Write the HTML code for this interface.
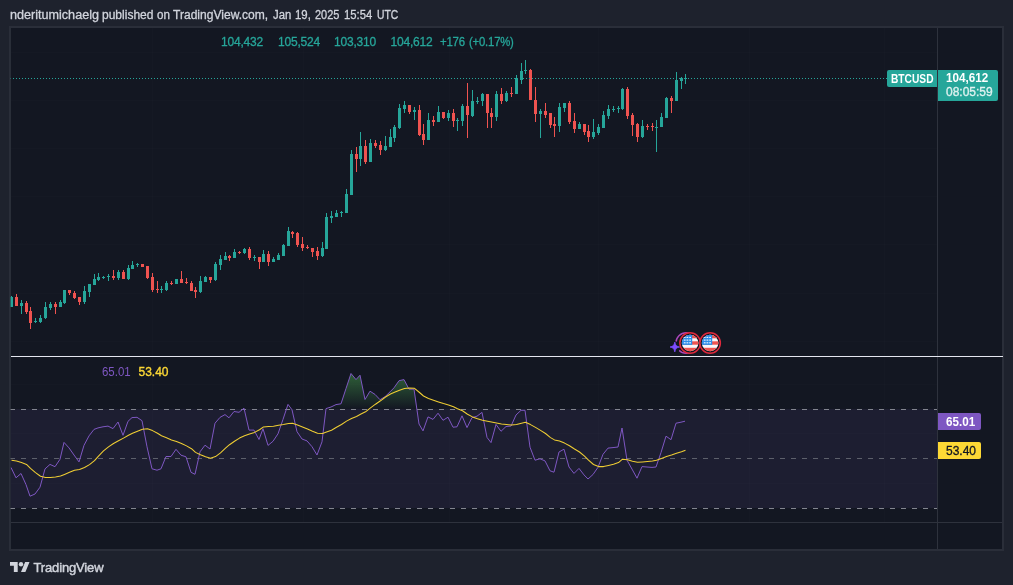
<!DOCTYPE html>
<html><head><meta charset="utf-8"><title>BTCUSD chart</title>
<style>
html,body{margin:0;padding:0;}
body{width:1013px;height:585px;background:#1e222d;overflow:hidden;position:relative;font-family:"Liberation Sans",sans-serif;}
#frame{position:absolute;left:9px;top:26px;width:991px;height:521px;border:2px solid #2a2e39;background:#131722;}
svg{position:absolute;left:0;top:0;}
.t{position:absolute;white-space:nowrap;line-height:1;}
#hdr{position:absolute;left:0;top:9px;font-size:12px;color:#d1d4dc;-webkit-text-stroke:0.3px #d1d4dc;line-height:1;white-space:nowrap;}
#hdr span{position:absolute;top:0;transform-origin:0 0;}
.lg{font-size:12px;color:#26a69a;top:35.6px;letter-spacing:-0.2px;-webkit-text-stroke:0.3px #26a69a;}
.lb{position:absolute;color:#fff;font-size:12px;white-space:nowrap;box-sizing:border-box;}
#sym{left:887px;top:70px;width:50px;height:17px;background:#26a69a;border-radius:2px 0 0 2px;}
#prc{left:938px;top:70px;width:60px;height:31px;background:#26a69a;border-radius:0 2px 2px 0;}
#r1{left:938px;top:413px;width:43px;height:17px;background:#7e57c2;border-radius:0 2px 2px 0;}
#r2{left:938px;top:442px;width:43px;height:17px;background:#fdd835;border-radius:0 2px 2px 0;color:#131722;}
.lb span{position:absolute;line-height:1;}
#tv{left:33.5px;top:561px;font-size:13px;color:#d1d4dc;letter-spacing:-0.15px;-webkit-text-stroke:0.45px #d1d4dc;}
</style></head><body>
<div id="frame"></div>
<svg width="1013" height="585" viewBox="0 0 1013 585">
<rect x="10" y="409" width="927" height="99" fill="#1d1e31"/>
<rect x="152" y="28" width="1" height="494" fill="#f0f3fa" fill-opacity="0.011"/>
<rect x="303" y="28" width="1" height="494" fill="#f0f3fa" fill-opacity="0.011"/>
<rect x="449" y="28" width="1" height="494" fill="#f0f3fa" fill-opacity="0.011"/>
<rect x="598" y="28" width="1" height="494" fill="#f0f3fa" fill-opacity="0.011"/>
<rect x="749" y="28" width="1" height="494" fill="#f0f3fa" fill-opacity="0.011"/>
<rect x="884" y="28" width="1" height="494" fill="#f0f3fa" fill-opacity="0.011"/>
<rect x="11" y="52" width="926" height="1" fill="#f0f3fa" fill-opacity="0.011"/>
<rect x="11" y="100" width="926" height="1" fill="#f0f3fa" fill-opacity="0.011"/>
<rect x="11" y="148" width="926" height="1" fill="#f0f3fa" fill-opacity="0.011"/>
<rect x="11" y="196" width="926" height="1" fill="#f0f3fa" fill-opacity="0.011"/>
<rect x="11" y="244" width="926" height="1" fill="#f0f3fa" fill-opacity="0.011"/>
<rect x="11" y="293" width="926" height="1" fill="#f0f3fa" fill-opacity="0.011"/>
<rect x="11" y="341" width="926" height="1" fill="#f0f3fa" fill-opacity="0.011"/>
<rect x="11" y="384" width="926" height="1" fill="#f0f3fa" fill-opacity="0.011"/>
<rect x="11" y="433" width="926" height="1" fill="#f0f3fa" fill-opacity="0.011"/>
<rect x="11" y="483" width="926" height="1" fill="#f0f3fa" fill-opacity="0.011"/>
<defs><linearGradient id="g" gradientUnits="userSpaceOnUse" x1="0" y1="335" x2="0" y2="409"><stop offset="0" stop-color="#4caf50" stop-opacity="1"/><stop offset="1" stop-color="#4caf50" stop-opacity="0"/></linearGradient><clipPath id="ob"><rect x="11" y="357" width="926" height="52.5"/></clipPath><clipPath id="pane"><rect x="10" y="28" width="927" height="494"/></clipPath></defs>
<polygon clip-path="url(#ob)" fill="url(#g)" points="11.0,409.5 11.0,467.5 16.0,477.8 21.0,473.5 26.0,484.6 30.0,496.2 35.0,494.0 40.0,487.2 45.0,468.9 50.0,464.4 55.0,466.7 60.0,459.3 64.0,442.4 69.0,447.9 74.0,455.0 79.0,461.9 84.0,445.3 89.0,435.9 94.0,429.4 98.0,427.9 103.0,426.8 108.0,426.1 113.0,428.6 118.0,422.0 123.0,435.3 128.0,421.3 132.0,417.6 137.0,417.3 142.0,420.7 147.0,446.8 152.0,468.8 157.0,470.2 161.0,468.8 166.0,456.5 171.0,456.5 176.0,449.3 181.0,455.2 186.0,456.8 191.0,472.3 195.0,474.3 200.0,451.8 205.0,445.2 210.0,449.0 215.0,423.2 220.0,417.4 225.0,414.6 229.0,417.8 234.0,411.5 239.0,412.3 244.0,408.2 249.0,430.1 254.0,430.1 259.0,439.5 263.0,428.7 268.0,445.4 273.0,441.3 278.0,433.8 283.0,419.4 288.0,404.4 292.0,409.8 297.0,431.7 302.0,439.0 307.0,440.9 312.0,446.7 317.0,455.0 322.0,441.8 326.0,408.6 331.0,407.0 336.0,404.6 341.0,403.8 346.0,388.5 351.0,373.5 356.0,379.6 360.0,375.2 365.0,399.5 370.0,391.2 375.0,394.4 380.0,399.7 385.0,396.7 390.0,391.9 394.0,387.8 399.0,380.7 404.0,379.6 409.0,389.2 414.0,389.2 419.0,424.0 423.0,430.9 428.0,416.9 433.0,419.4 438.0,413.2 443.0,420.3 448.0,417.2 453.0,427.2 457.0,426.8 462.0,415.8 467.0,427.6 472.0,417.6 477.0,416.2 482.0,412.4 487.0,437.4 491.0,442.6 496.0,424.4 501.0,431.3 506.0,426.5 511.0,426.1 516.0,415.0 521.0,410.3 525.0,410.3 530.0,447.2 535.0,460.2 540.0,458.8 545.0,460.9 550.0,470.8 554.0,472.2 559.0,452.0 564.0,449.2 569.0,467.0 574.0,473.4 579.0,468.4 584.0,474.9 588.0,479.0 593.0,474.5 598.0,467.3 603.0,454.3 608.0,448.1 613.0,447.6 618.0,447.0 622.0,428.0 627.0,460.2 632.0,469.1 637.0,478.2 642.0,466.6 647.0,467.0 652.0,467.4 656.0,467.0 661.0,452.6 666.0,436.2 671.0,439.7 676.0,423.2 681.0,422.2 685.0,421.2 685.0,409.5"/>
<g fill="#82858f" clip-path="url(#pane)">
<rect x="10" y="409" width="5" height="1"/>
<rect x="21" y="409" width="5" height="1"/>
<rect x="32" y="409" width="5" height="1"/>
<rect x="43" y="409" width="5" height="1"/>
<rect x="54" y="409" width="5" height="1"/>
<rect x="65" y="409" width="5" height="1"/>
<rect x="76" y="409" width="5" height="1"/>
<rect x="87" y="409" width="5" height="1"/>
<rect x="98" y="409" width="5" height="1"/>
<rect x="109" y="409" width="5" height="1"/>
<rect x="120" y="409" width="5" height="1"/>
<rect x="131" y="409" width="5" height="1"/>
<rect x="142" y="409" width="5" height="1"/>
<rect x="153" y="409" width="5" height="1"/>
<rect x="164" y="409" width="5" height="1"/>
<rect x="175" y="409" width="5" height="1"/>
<rect x="186" y="409" width="5" height="1"/>
<rect x="197" y="409" width="5" height="1"/>
<rect x="208" y="409" width="5" height="1"/>
<rect x="219" y="409" width="5" height="1"/>
<rect x="230" y="409" width="5" height="1"/>
<rect x="241" y="409" width="5" height="1"/>
<rect x="252" y="409" width="5" height="1"/>
<rect x="263" y="409" width="5" height="1"/>
<rect x="274" y="409" width="5" height="1"/>
<rect x="285" y="409" width="5" height="1"/>
<rect x="296" y="409" width="5" height="1"/>
<rect x="307" y="409" width="5" height="1"/>
<rect x="318" y="409" width="5" height="1"/>
<rect x="329" y="409" width="5" height="1"/>
<rect x="340" y="409" width="5" height="1"/>
<rect x="351" y="409" width="5" height="1"/>
<rect x="362" y="409" width="5" height="1"/>
<rect x="373" y="409" width="5" height="1"/>
<rect x="384" y="409" width="5" height="1"/>
<rect x="395" y="409" width="5" height="1"/>
<rect x="406" y="409" width="5" height="1"/>
<rect x="417" y="409" width="5" height="1"/>
<rect x="428" y="409" width="5" height="1"/>
<rect x="439" y="409" width="5" height="1"/>
<rect x="450" y="409" width="5" height="1"/>
<rect x="461" y="409" width="5" height="1"/>
<rect x="472" y="409" width="5" height="1"/>
<rect x="483" y="409" width="5" height="1"/>
<rect x="494" y="409" width="5" height="1"/>
<rect x="505" y="409" width="5" height="1"/>
<rect x="516" y="409" width="5" height="1"/>
<rect x="527" y="409" width="5" height="1"/>
<rect x="538" y="409" width="5" height="1"/>
<rect x="549" y="409" width="5" height="1"/>
<rect x="560" y="409" width="5" height="1"/>
<rect x="571" y="409" width="5" height="1"/>
<rect x="582" y="409" width="5" height="1"/>
<rect x="593" y="409" width="5" height="1"/>
<rect x="604" y="409" width="5" height="1"/>
<rect x="615" y="409" width="5" height="1"/>
<rect x="626" y="409" width="5" height="1"/>
<rect x="637" y="409" width="5" height="1"/>
<rect x="648" y="409" width="5" height="1"/>
<rect x="659" y="409" width="5" height="1"/>
<rect x="670" y="409" width="5" height="1"/>
<rect x="681" y="409" width="5" height="1"/>
<rect x="692" y="409" width="5" height="1"/>
<rect x="703" y="409" width="5" height="1"/>
<rect x="714" y="409" width="5" height="1"/>
<rect x="725" y="409" width="5" height="1"/>
<rect x="736" y="409" width="5" height="1"/>
<rect x="747" y="409" width="5" height="1"/>
<rect x="758" y="409" width="5" height="1"/>
<rect x="769" y="409" width="5" height="1"/>
<rect x="780" y="409" width="5" height="1"/>
<rect x="791" y="409" width="5" height="1"/>
<rect x="802" y="409" width="5" height="1"/>
<rect x="813" y="409" width="5" height="1"/>
<rect x="824" y="409" width="5" height="1"/>
<rect x="835" y="409" width="5" height="1"/>
<rect x="846" y="409" width="5" height="1"/>
<rect x="857" y="409" width="5" height="1"/>
<rect x="868" y="409" width="5" height="1"/>
<rect x="879" y="409" width="5" height="1"/>
<rect x="890" y="409" width="5" height="1"/>
<rect x="901" y="409" width="5" height="1"/>
<rect x="912" y="409" width="5" height="1"/>
<rect x="923" y="409" width="5" height="1"/>
<rect x="934" y="409" width="5" height="1"/>
</g>
<g fill="#5d606b" clip-path="url(#pane)">
<rect x="10" y="458" width="5" height="1"/>
<rect x="21" y="458" width="5" height="1"/>
<rect x="32" y="458" width="5" height="1"/>
<rect x="43" y="458" width="5" height="1"/>
<rect x="54" y="458" width="5" height="1"/>
<rect x="65" y="458" width="5" height="1"/>
<rect x="76" y="458" width="5" height="1"/>
<rect x="87" y="458" width="5" height="1"/>
<rect x="98" y="458" width="5" height="1"/>
<rect x="109" y="458" width="5" height="1"/>
<rect x="120" y="458" width="5" height="1"/>
<rect x="131" y="458" width="5" height="1"/>
<rect x="142" y="458" width="5" height="1"/>
<rect x="153" y="458" width="5" height="1"/>
<rect x="164" y="458" width="5" height="1"/>
<rect x="175" y="458" width="5" height="1"/>
<rect x="186" y="458" width="5" height="1"/>
<rect x="197" y="458" width="5" height="1"/>
<rect x="208" y="458" width="5" height="1"/>
<rect x="219" y="458" width="5" height="1"/>
<rect x="230" y="458" width="5" height="1"/>
<rect x="241" y="458" width="5" height="1"/>
<rect x="252" y="458" width="5" height="1"/>
<rect x="263" y="458" width="5" height="1"/>
<rect x="274" y="458" width="5" height="1"/>
<rect x="285" y="458" width="5" height="1"/>
<rect x="296" y="458" width="5" height="1"/>
<rect x="307" y="458" width="5" height="1"/>
<rect x="318" y="458" width="5" height="1"/>
<rect x="329" y="458" width="5" height="1"/>
<rect x="340" y="458" width="5" height="1"/>
<rect x="351" y="458" width="5" height="1"/>
<rect x="362" y="458" width="5" height="1"/>
<rect x="373" y="458" width="5" height="1"/>
<rect x="384" y="458" width="5" height="1"/>
<rect x="395" y="458" width="5" height="1"/>
<rect x="406" y="458" width="5" height="1"/>
<rect x="417" y="458" width="5" height="1"/>
<rect x="428" y="458" width="5" height="1"/>
<rect x="439" y="458" width="5" height="1"/>
<rect x="450" y="458" width="5" height="1"/>
<rect x="461" y="458" width="5" height="1"/>
<rect x="472" y="458" width="5" height="1"/>
<rect x="483" y="458" width="5" height="1"/>
<rect x="494" y="458" width="5" height="1"/>
<rect x="505" y="458" width="5" height="1"/>
<rect x="516" y="458" width="5" height="1"/>
<rect x="527" y="458" width="5" height="1"/>
<rect x="538" y="458" width="5" height="1"/>
<rect x="549" y="458" width="5" height="1"/>
<rect x="560" y="458" width="5" height="1"/>
<rect x="571" y="458" width="5" height="1"/>
<rect x="582" y="458" width="5" height="1"/>
<rect x="593" y="458" width="5" height="1"/>
<rect x="604" y="458" width="5" height="1"/>
<rect x="615" y="458" width="5" height="1"/>
<rect x="626" y="458" width="5" height="1"/>
<rect x="637" y="458" width="5" height="1"/>
<rect x="648" y="458" width="5" height="1"/>
<rect x="659" y="458" width="5" height="1"/>
<rect x="670" y="458" width="5" height="1"/>
<rect x="681" y="458" width="5" height="1"/>
<rect x="692" y="458" width="5" height="1"/>
<rect x="703" y="458" width="5" height="1"/>
<rect x="714" y="458" width="5" height="1"/>
<rect x="725" y="458" width="5" height="1"/>
<rect x="736" y="458" width="5" height="1"/>
<rect x="747" y="458" width="5" height="1"/>
<rect x="758" y="458" width="5" height="1"/>
<rect x="769" y="458" width="5" height="1"/>
<rect x="780" y="458" width="5" height="1"/>
<rect x="791" y="458" width="5" height="1"/>
<rect x="802" y="458" width="5" height="1"/>
<rect x="813" y="458" width="5" height="1"/>
<rect x="824" y="458" width="5" height="1"/>
<rect x="835" y="458" width="5" height="1"/>
<rect x="846" y="458" width="5" height="1"/>
<rect x="857" y="458" width="5" height="1"/>
<rect x="868" y="458" width="5" height="1"/>
<rect x="879" y="458" width="5" height="1"/>
<rect x="890" y="458" width="5" height="1"/>
<rect x="901" y="458" width="5" height="1"/>
<rect x="912" y="458" width="5" height="1"/>
<rect x="923" y="458" width="5" height="1"/>
<rect x="934" y="458" width="5" height="1"/>
</g>
<g fill="#82858f" clip-path="url(#pane)">
<rect x="10" y="508" width="5" height="1"/>
<rect x="21" y="508" width="5" height="1"/>
<rect x="32" y="508" width="5" height="1"/>
<rect x="43" y="508" width="5" height="1"/>
<rect x="54" y="508" width="5" height="1"/>
<rect x="65" y="508" width="5" height="1"/>
<rect x="76" y="508" width="5" height="1"/>
<rect x="87" y="508" width="5" height="1"/>
<rect x="98" y="508" width="5" height="1"/>
<rect x="109" y="508" width="5" height="1"/>
<rect x="120" y="508" width="5" height="1"/>
<rect x="131" y="508" width="5" height="1"/>
<rect x="142" y="508" width="5" height="1"/>
<rect x="153" y="508" width="5" height="1"/>
<rect x="164" y="508" width="5" height="1"/>
<rect x="175" y="508" width="5" height="1"/>
<rect x="186" y="508" width="5" height="1"/>
<rect x="197" y="508" width="5" height="1"/>
<rect x="208" y="508" width="5" height="1"/>
<rect x="219" y="508" width="5" height="1"/>
<rect x="230" y="508" width="5" height="1"/>
<rect x="241" y="508" width="5" height="1"/>
<rect x="252" y="508" width="5" height="1"/>
<rect x="263" y="508" width="5" height="1"/>
<rect x="274" y="508" width="5" height="1"/>
<rect x="285" y="508" width="5" height="1"/>
<rect x="296" y="508" width="5" height="1"/>
<rect x="307" y="508" width="5" height="1"/>
<rect x="318" y="508" width="5" height="1"/>
<rect x="329" y="508" width="5" height="1"/>
<rect x="340" y="508" width="5" height="1"/>
<rect x="351" y="508" width="5" height="1"/>
<rect x="362" y="508" width="5" height="1"/>
<rect x="373" y="508" width="5" height="1"/>
<rect x="384" y="508" width="5" height="1"/>
<rect x="395" y="508" width="5" height="1"/>
<rect x="406" y="508" width="5" height="1"/>
<rect x="417" y="508" width="5" height="1"/>
<rect x="428" y="508" width="5" height="1"/>
<rect x="439" y="508" width="5" height="1"/>
<rect x="450" y="508" width="5" height="1"/>
<rect x="461" y="508" width="5" height="1"/>
<rect x="472" y="508" width="5" height="1"/>
<rect x="483" y="508" width="5" height="1"/>
<rect x="494" y="508" width="5" height="1"/>
<rect x="505" y="508" width="5" height="1"/>
<rect x="516" y="508" width="5" height="1"/>
<rect x="527" y="508" width="5" height="1"/>
<rect x="538" y="508" width="5" height="1"/>
<rect x="549" y="508" width="5" height="1"/>
<rect x="560" y="508" width="5" height="1"/>
<rect x="571" y="508" width="5" height="1"/>
<rect x="582" y="508" width="5" height="1"/>
<rect x="593" y="508" width="5" height="1"/>
<rect x="604" y="508" width="5" height="1"/>
<rect x="615" y="508" width="5" height="1"/>
<rect x="626" y="508" width="5" height="1"/>
<rect x="637" y="508" width="5" height="1"/>
<rect x="648" y="508" width="5" height="1"/>
<rect x="659" y="508" width="5" height="1"/>
<rect x="670" y="508" width="5" height="1"/>
<rect x="681" y="508" width="5" height="1"/>
<rect x="692" y="508" width="5" height="1"/>
<rect x="703" y="508" width="5" height="1"/>
<rect x="714" y="508" width="5" height="1"/>
<rect x="725" y="508" width="5" height="1"/>
<rect x="736" y="508" width="5" height="1"/>
<rect x="747" y="508" width="5" height="1"/>
<rect x="758" y="508" width="5" height="1"/>
<rect x="769" y="508" width="5" height="1"/>
<rect x="780" y="508" width="5" height="1"/>
<rect x="791" y="508" width="5" height="1"/>
<rect x="802" y="508" width="5" height="1"/>
<rect x="813" y="508" width="5" height="1"/>
<rect x="824" y="508" width="5" height="1"/>
<rect x="835" y="508" width="5" height="1"/>
<rect x="846" y="508" width="5" height="1"/>
<rect x="857" y="508" width="5" height="1"/>
<rect x="868" y="508" width="5" height="1"/>
<rect x="879" y="508" width="5" height="1"/>
<rect x="890" y="508" width="5" height="1"/>
<rect x="901" y="508" width="5" height="1"/>
<rect x="912" y="508" width="5" height="1"/>
<rect x="923" y="508" width="5" height="1"/>
<rect x="934" y="508" width="5" height="1"/>
</g>
<polyline fill="none" stroke="#7e57c2" stroke-width="1.0" stroke-linejoin="round" points="11.0,467.5 16.0,477.8 21.0,473.5 26.0,484.6 30.0,496.2 35.0,494.0 40.0,487.2 45.0,468.9 50.0,464.4 55.0,466.7 60.0,459.3 64.0,442.4 69.0,447.9 74.0,455.0 79.0,461.9 84.0,445.3 89.0,435.9 94.0,429.4 98.0,427.9 103.0,426.8 108.0,426.1 113.0,428.6 118.0,422.0 123.0,435.3 128.0,421.3 132.0,417.6 137.0,417.3 142.0,420.7 147.0,446.8 152.0,468.8 157.0,470.2 161.0,468.8 166.0,456.5 171.0,456.5 176.0,449.3 181.0,455.2 186.0,456.8 191.0,472.3 195.0,474.3 200.0,451.8 205.0,445.2 210.0,449.0 215.0,423.2 220.0,417.4 225.0,414.6 229.0,417.8 234.0,411.5 239.0,412.3 244.0,408.2 249.0,430.1 254.0,430.1 259.0,439.5 263.0,428.7 268.0,445.4 273.0,441.3 278.0,433.8 283.0,419.4 288.0,404.4 292.0,409.8 297.0,431.7 302.0,439.0 307.0,440.9 312.0,446.7 317.0,455.0 322.0,441.8 326.0,408.6 331.0,407.0 336.0,404.6 341.0,403.8 346.0,388.5 351.0,373.5 356.0,379.6 360.0,375.2 365.0,399.5 370.0,391.2 375.0,394.4 380.0,399.7 385.0,396.7 390.0,391.9 394.0,387.8 399.0,380.7 404.0,379.6 409.0,389.2 414.0,389.2 419.0,424.0 423.0,430.9 428.0,416.9 433.0,419.4 438.0,413.2 443.0,420.3 448.0,417.2 453.0,427.2 457.0,426.8 462.0,415.8 467.0,427.6 472.0,417.6 477.0,416.2 482.0,412.4 487.0,437.4 491.0,442.6 496.0,424.4 501.0,431.3 506.0,426.5 511.0,426.1 516.0,415.0 521.0,410.3 525.0,410.3 530.0,447.2 535.0,460.2 540.0,458.8 545.0,460.9 550.0,470.8 554.0,472.2 559.0,452.0 564.0,449.2 569.0,467.0 574.0,473.4 579.0,468.4 584.0,474.9 588.0,479.0 593.0,474.5 598.0,467.3 603.0,454.3 608.0,448.1 613.0,447.6 618.0,447.0 622.0,428.0 627.0,460.2 632.0,469.1 637.0,478.2 642.0,466.6 647.0,467.0 652.0,467.4 656.0,467.0 661.0,452.6 666.0,436.2 671.0,439.7 676.0,423.2 681.0,422.2 685.0,421.2"/>
<polyline fill="none" stroke="#f0ce33" stroke-width="1.05" stroke-linejoin="round" points="11.5,460.2 16.5,461.0 21.5,462.6 26.5,464.4 30.5,468.4 35.5,472.6 40.5,476.2 45.5,477.6 50.5,477.4 55.5,476.9 60.5,476.1 64.5,474.4 69.5,472.3 74.5,470.3 79.5,469.6 84.5,467.5 89.5,464.6 94.5,460.7 98.5,456.1 103.5,450.9 108.5,446.9 113.5,443.5 118.5,440.8 123.5,438.1 128.5,435.3 132.5,433.3 137.5,431.2 142.5,429.2 147.5,428.8 152.5,430.6 157.5,433.3 161.5,435.8 166.5,437.7 171.5,439.9 176.5,441.5 181.5,443.5 186.5,445.9 191.5,448.7 195.5,452.4 200.5,454.8 205.5,456.8 210.5,458.2 215.5,456.6 220.5,452.9 225.5,448.1 229.5,444.7 234.5,441.3 239.5,438.1 244.5,435.8 249.5,434.0 254.5,432.4 259.5,429.7 263.5,426.9 268.5,426.6 273.5,426.2 278.5,425.3 283.5,424.5 288.5,423.5 292.5,423.2 297.5,424.9 302.5,426.9 307.5,429.0 312.5,431.2 317.5,433.2 322.5,433.6 326.5,431.9 331.5,430.2 336.5,427.3 341.5,424.5 346.5,421.1 351.5,418.5 356.5,416.5 360.5,414.2 365.5,411.8 370.5,407.9 375.5,404.2 380.5,400.8 385.5,397.0 390.5,394.0 394.5,392.3 399.5,390.2 404.5,388.5 409.5,388.0 414.5,388.3 419.5,392.5 423.5,396.0 428.5,398.5 433.5,400.2 438.5,401.9 443.5,403.5 448.5,404.9 453.5,406.7 457.5,408.7 462.5,410.8 467.5,414.2 472.5,416.9 477.5,418.7 482.5,420.3 487.5,421.3 491.5,422.1 496.5,423.1 501.5,424.0 506.5,424.6 511.5,425.1 516.5,424.5 521.5,423.2 525.5,422.3 530.5,424.6 535.5,427.4 540.5,430.4 545.5,433.5 550.5,437.6 554.5,439.9 559.5,441.0 564.5,443.1 569.5,445.8 574.5,449.0 579.5,452.0 584.5,456.1 588.5,460.2 593.5,464.5 598.5,466.6 603.5,466.6 608.5,465.5 613.5,464.3 618.5,462.6 622.5,459.2 627.5,459.8 632.5,461.3 637.5,462.2 642.5,461.9 647.5,461.5 652.5,461.1 656.5,460.2 661.5,458.5 666.5,456.5 671.5,455.1 676.5,453.3 681.5,451.7 685.5,450.2"/>
<g clip-path="url(#pane)" shape-rendering="crispEdges">
<rect x="11" y="296" width="1" height="11" fill="#26a69a"/>
<rect x="10" y="297" width="3" height="10" fill="#26a69a"/>
<rect x="16" y="294" width="1" height="12" fill="#ef5350"/>
<rect x="15" y="297" width="3" height="9" fill="#ef5350"/>
<rect x="21" y="300" width="1" height="14" fill="#26a69a"/>
<rect x="20" y="303" width="3" height="3" fill="#26a69a"/>
<rect x="26" y="301" width="1" height="13" fill="#ef5350"/>
<rect x="25" y="303" width="3" height="9" fill="#ef5350"/>
<rect x="30" y="307" width="1" height="22" fill="#ef5350"/>
<rect x="29" y="311" width="3" height="12" fill="#ef5350"/>
<rect x="35" y="318" width="1" height="5" fill="#26a69a"/>
<rect x="34" y="321" width="3" height="1" fill="#26a69a"/>
<rect x="40" y="315" width="1" height="8" fill="#26a69a"/>
<rect x="39" y="318" width="3" height="4" fill="#26a69a"/>
<rect x="45" y="302" width="1" height="17" fill="#26a69a"/>
<rect x="44" y="307" width="3" height="11" fill="#26a69a"/>
<rect x="50" y="302" width="1" height="8" fill="#26a69a"/>
<rect x="49" y="304" width="3" height="4" fill="#26a69a"/>
<rect x="55" y="302" width="1" height="12" fill="#ef5350"/>
<rect x="54" y="304" width="3" height="3" fill="#ef5350"/>
<rect x="60" y="300" width="1" height="7" fill="#26a69a"/>
<rect x="59" y="302" width="3" height="5" fill="#26a69a"/>
<rect x="64" y="290" width="1" height="14" fill="#26a69a"/>
<rect x="63" y="290" width="3" height="13" fill="#26a69a"/>
<rect x="69" y="290" width="1" height="5" fill="#ef5350"/>
<rect x="68" y="290" width="3" height="3" fill="#ef5350"/>
<rect x="74" y="291" width="1" height="8" fill="#ef5350"/>
<rect x="73" y="293" width="3" height="5" fill="#ef5350"/>
<rect x="79" y="297" width="1" height="8" fill="#ef5350"/>
<rect x="78" y="297" width="3" height="5" fill="#ef5350"/>
<rect x="84" y="286" width="1" height="18" fill="#26a69a"/>
<rect x="83" y="291" width="3" height="11" fill="#26a69a"/>
<rect x="89" y="284" width="1" height="13" fill="#26a69a"/>
<rect x="88" y="284" width="3" height="8" fill="#26a69a"/>
<rect x="94" y="274" width="1" height="11" fill="#26a69a"/>
<rect x="93" y="279" width="3" height="6" fill="#26a69a"/>
<rect x="98" y="273" width="1" height="8" fill="#26a69a"/>
<rect x="97" y="277" width="3" height="3" fill="#26a69a"/>
<rect x="103" y="276" width="1" height="3" fill="#26a69a"/>
<rect x="102" y="277" width="3" height="1" fill="#26a69a"/>
<rect x="108" y="274" width="1" height="7" fill="#26a69a"/>
<rect x="107" y="276" width="3" height="1" fill="#26a69a"/>
<rect x="113" y="270" width="1" height="10" fill="#ef5350"/>
<rect x="112" y="276" width="3" height="2" fill="#ef5350"/>
<rect x="118" y="270" width="1" height="10" fill="#26a69a"/>
<rect x="117" y="272" width="3" height="6" fill="#26a69a"/>
<rect x="123" y="270" width="1" height="9" fill="#ef5350"/>
<rect x="122" y="272" width="3" height="7" fill="#ef5350"/>
<rect x="128" y="265" width="1" height="15" fill="#26a69a"/>
<rect x="127" y="268" width="3" height="11" fill="#26a69a"/>
<rect x="132" y="261" width="1" height="8" fill="#26a69a"/>
<rect x="131" y="265" width="3" height="4" fill="#26a69a"/>
<rect x="137" y="263" width="1" height="4" fill="#26a69a"/>
<rect x="136" y="264" width="3" height="1" fill="#26a69a"/>
<rect x="142" y="264" width="1" height="3" fill="#ef5350"/>
<rect x="141" y="264" width="3" height="3" fill="#ef5350"/>
<rect x="147" y="266" width="1" height="13" fill="#ef5350"/>
<rect x="146" y="266" width="3" height="12" fill="#ef5350"/>
<rect x="152" y="273" width="1" height="19" fill="#ef5350"/>
<rect x="151" y="277" width="3" height="13" fill="#ef5350"/>
<rect x="157" y="281" width="1" height="12" fill="#ef5350"/>
<rect x="156" y="289" width="3" height="1" fill="#ef5350"/>
<rect x="161" y="286" width="1" height="7" fill="#26a69a"/>
<rect x="160" y="289" width="3" height="1" fill="#26a69a"/>
<rect x="166" y="281" width="1" height="10" fill="#26a69a"/>
<rect x="165" y="283" width="3" height="7" fill="#26a69a"/>
<rect x="171" y="281" width="1" height="4" fill="#ef5350"/>
<rect x="170" y="283" width="3" height="1" fill="#ef5350"/>
<rect x="176" y="279" width="1" height="5" fill="#26a69a"/>
<rect x="175" y="279" width="3" height="5" fill="#26a69a"/>
<rect x="181" y="271" width="1" height="12" fill="#ef5350"/>
<rect x="180" y="279" width="3" height="4" fill="#ef5350"/>
<rect x="186" y="278" width="1" height="6" fill="#ef5350"/>
<rect x="185" y="282" width="3" height="1" fill="#ef5350"/>
<rect x="191" y="281" width="1" height="10" fill="#ef5350"/>
<rect x="190" y="283" width="3" height="8" fill="#ef5350"/>
<rect x="195" y="287" width="1" height="11" fill="#ef5350"/>
<rect x="194" y="290" width="3" height="2" fill="#ef5350"/>
<rect x="200" y="276" width="1" height="17" fill="#26a69a"/>
<rect x="199" y="281" width="3" height="11" fill="#26a69a"/>
<rect x="205" y="276" width="1" height="6" fill="#26a69a"/>
<rect x="204" y="277" width="3" height="5" fill="#26a69a"/>
<rect x="210" y="277" width="1" height="6" fill="#ef5350"/>
<rect x="209" y="277" width="3" height="3" fill="#ef5350"/>
<rect x="215" y="262" width="1" height="19" fill="#26a69a"/>
<rect x="214" y="264" width="3" height="16" fill="#26a69a"/>
<rect x="220" y="255" width="1" height="15" fill="#26a69a"/>
<rect x="219" y="259" width="3" height="6" fill="#26a69a"/>
<rect x="225" y="252" width="1" height="8" fill="#26a69a"/>
<rect x="224" y="256" width="3" height="4" fill="#26a69a"/>
<rect x="229" y="255" width="1" height="6" fill="#ef5350"/>
<rect x="228" y="256" width="3" height="2" fill="#ef5350"/>
<rect x="234" y="249" width="1" height="9" fill="#26a69a"/>
<rect x="233" y="252" width="3" height="6" fill="#26a69a"/>
<rect x="239" y="251" width="1" height="3" fill="#ef5350"/>
<rect x="238" y="252" width="3" height="1" fill="#ef5350"/>
<rect x="244" y="248" width="1" height="6" fill="#26a69a"/>
<rect x="243" y="249" width="3" height="4" fill="#26a69a"/>
<rect x="249" y="247" width="1" height="13" fill="#ef5350"/>
<rect x="248" y="249" width="3" height="9" fill="#ef5350"/>
<rect x="254" y="255" width="1" height="6" fill="#26a69a"/>
<rect x="253" y="257" width="3" height="1" fill="#26a69a"/>
<rect x="259" y="257" width="1" height="12" fill="#ef5350"/>
<rect x="258" y="257" width="3" height="5" fill="#ef5350"/>
<rect x="263" y="250" width="1" height="12" fill="#26a69a"/>
<rect x="262" y="254" width="3" height="8" fill="#26a69a"/>
<rect x="268" y="251" width="1" height="15" fill="#ef5350"/>
<rect x="267" y="254" width="3" height="8" fill="#ef5350"/>
<rect x="273" y="257" width="1" height="5" fill="#26a69a"/>
<rect x="272" y="259" width="3" height="3" fill="#26a69a"/>
<rect x="278" y="253" width="1" height="7" fill="#26a69a"/>
<rect x="277" y="255" width="3" height="5" fill="#26a69a"/>
<rect x="283" y="244" width="1" height="12" fill="#26a69a"/>
<rect x="282" y="245" width="3" height="11" fill="#26a69a"/>
<rect x="288" y="227" width="1" height="19" fill="#26a69a"/>
<rect x="287" y="231" width="3" height="15" fill="#26a69a"/>
<rect x="292" y="231" width="1" height="7" fill="#ef5350"/>
<rect x="291" y="232" width="3" height="2" fill="#ef5350"/>
<rect x="297" y="232" width="1" height="15" fill="#ef5350"/>
<rect x="296" y="233" width="3" height="12" fill="#ef5350"/>
<rect x="302" y="237" width="1" height="14" fill="#ef5350"/>
<rect x="301" y="244" width="3" height="4" fill="#ef5350"/>
<rect x="307" y="245" width="1" height="4" fill="#ef5350"/>
<rect x="306" y="247" width="3" height="1" fill="#ef5350"/>
<rect x="312" y="248" width="1" height="9" fill="#ef5350"/>
<rect x="311" y="248" width="3" height="4" fill="#ef5350"/>
<rect x="317" y="247" width="1" height="13" fill="#ef5350"/>
<rect x="316" y="251" width="3" height="5" fill="#ef5350"/>
<rect x="322" y="242" width="1" height="15" fill="#26a69a"/>
<rect x="321" y="248" width="3" height="8" fill="#26a69a"/>
<rect x="326" y="213" width="1" height="36" fill="#26a69a"/>
<rect x="325" y="217" width="3" height="32" fill="#26a69a"/>
<rect x="331" y="211" width="1" height="12" fill="#26a69a"/>
<rect x="330" y="216" width="3" height="2" fill="#26a69a"/>
<rect x="336" y="210" width="1" height="7" fill="#26a69a"/>
<rect x="335" y="213" width="3" height="4" fill="#26a69a"/>
<rect x="341" y="211" width="1" height="6" fill="#26a69a"/>
<rect x="340" y="212" width="3" height="1" fill="#26a69a"/>
<rect x="346" y="189" width="1" height="24" fill="#26a69a"/>
<rect x="345" y="194" width="3" height="19" fill="#26a69a"/>
<rect x="351" y="150" width="1" height="45" fill="#26a69a"/>
<rect x="350" y="154" width="3" height="41" fill="#26a69a"/>
<rect x="356" y="147" width="1" height="25" fill="#ef5350"/>
<rect x="355" y="154" width="3" height="5" fill="#ef5350"/>
<rect x="360" y="132" width="1" height="34" fill="#26a69a"/>
<rect x="359" y="146" width="3" height="13" fill="#26a69a"/>
<rect x="365" y="140" width="1" height="24" fill="#ef5350"/>
<rect x="364" y="146" width="3" height="16" fill="#ef5350"/>
<rect x="370" y="139" width="1" height="23" fill="#26a69a"/>
<rect x="369" y="143" width="3" height="19" fill="#26a69a"/>
<rect x="375" y="140" width="1" height="8" fill="#ef5350"/>
<rect x="374" y="143" width="3" height="3" fill="#ef5350"/>
<rect x="380" y="141" width="1" height="14" fill="#ef5350"/>
<rect x="379" y="145" width="3" height="5" fill="#ef5350"/>
<rect x="385" y="136" width="1" height="15" fill="#26a69a"/>
<rect x="384" y="146" width="3" height="4" fill="#26a69a"/>
<rect x="390" y="129" width="1" height="18" fill="#26a69a"/>
<rect x="389" y="137" width="3" height="10" fill="#26a69a"/>
<rect x="394" y="125" width="1" height="17" fill="#26a69a"/>
<rect x="393" y="127" width="3" height="11" fill="#26a69a"/>
<rect x="399" y="104" width="1" height="25" fill="#26a69a"/>
<rect x="398" y="108" width="3" height="20" fill="#26a69a"/>
<rect x="404" y="101" width="1" height="12" fill="#26a69a"/>
<rect x="403" y="105" width="3" height="4" fill="#26a69a"/>
<rect x="409" y="105" width="1" height="9" fill="#ef5350"/>
<rect x="408" y="105" width="3" height="7" fill="#ef5350"/>
<rect x="414" y="107" width="1" height="13" fill="#26a69a"/>
<rect x="413" y="110" width="3" height="2" fill="#26a69a"/>
<rect x="419" y="105" width="1" height="31" fill="#ef5350"/>
<rect x="418" y="110" width="3" height="25" fill="#ef5350"/>
<rect x="423" y="124" width="1" height="21" fill="#ef5350"/>
<rect x="422" y="134" width="3" height="6" fill="#ef5350"/>
<rect x="428" y="113" width="1" height="27" fill="#26a69a"/>
<rect x="427" y="120" width="3" height="20" fill="#26a69a"/>
<rect x="433" y="116" width="1" height="10" fill="#ef5350"/>
<rect x="432" y="120" width="3" height="2" fill="#ef5350"/>
<rect x="438" y="106" width="1" height="16" fill="#26a69a"/>
<rect x="437" y="112" width="3" height="10" fill="#26a69a"/>
<rect x="443" y="112" width="1" height="7" fill="#ef5350"/>
<rect x="442" y="112" width="3" height="6" fill="#ef5350"/>
<rect x="448" y="110" width="1" height="11" fill="#26a69a"/>
<rect x="447" y="113" width="3" height="5" fill="#26a69a"/>
<rect x="453" y="109" width="1" height="18" fill="#ef5350"/>
<rect x="452" y="113" width="3" height="8" fill="#ef5350"/>
<rect x="457" y="118" width="1" height="13" fill="#26a69a"/>
<rect x="456" y="120" width="3" height="1" fill="#26a69a"/>
<rect x="462" y="104" width="1" height="22" fill="#26a69a"/>
<rect x="461" y="106" width="3" height="15" fill="#26a69a"/>
<rect x="467" y="83" width="1" height="55" fill="#ef5350"/>
<rect x="466" y="106" width="3" height="9" fill="#ef5350"/>
<rect x="472" y="90" width="1" height="27" fill="#26a69a"/>
<rect x="471" y="101" width="3" height="15" fill="#26a69a"/>
<rect x="477" y="97" width="1" height="7" fill="#26a69a"/>
<rect x="476" y="101" width="3" height="1" fill="#26a69a"/>
<rect x="482" y="93" width="1" height="13" fill="#26a69a"/>
<rect x="481" y="94" width="3" height="7" fill="#26a69a"/>
<rect x="487" y="94" width="1" height="34" fill="#ef5350"/>
<rect x="486" y="94" width="3" height="19" fill="#ef5350"/>
<rect x="491" y="108" width="1" height="20" fill="#ef5350"/>
<rect x="490" y="113" width="3" height="4" fill="#ef5350"/>
<rect x="496" y="91" width="1" height="30" fill="#26a69a"/>
<rect x="495" y="94" width="3" height="23" fill="#26a69a"/>
<rect x="501" y="88" width="1" height="16" fill="#ef5350"/>
<rect x="500" y="94" width="3" height="7" fill="#ef5350"/>
<rect x="506" y="91" width="1" height="11" fill="#26a69a"/>
<rect x="505" y="93" width="3" height="8" fill="#26a69a"/>
<rect x="511" y="87" width="1" height="10" fill="#ef5350"/>
<rect x="510" y="93" width="3" height="1" fill="#ef5350"/>
<rect x="516" y="75" width="1" height="19" fill="#26a69a"/>
<rect x="515" y="78" width="3" height="16" fill="#26a69a"/>
<rect x="521" y="63" width="1" height="21" fill="#26a69a"/>
<rect x="520" y="71" width="3" height="9" fill="#26a69a"/>
<rect x="525" y="60" width="1" height="14" fill="#26a69a"/>
<rect x="524" y="70" width="3" height="1" fill="#26a69a"/>
<rect x="530" y="69" width="1" height="31" fill="#ef5350"/>
<rect x="529" y="70" width="3" height="30" fill="#ef5350"/>
<rect x="535" y="87" width="1" height="35" fill="#ef5350"/>
<rect x="534" y="100" width="3" height="14" fill="#ef5350"/>
<rect x="540" y="109" width="1" height="29" fill="#26a69a"/>
<rect x="539" y="111" width="3" height="3" fill="#26a69a"/>
<rect x="545" y="103" width="1" height="15" fill="#ef5350"/>
<rect x="544" y="111" width="3" height="4" fill="#ef5350"/>
<rect x="550" y="113" width="1" height="15" fill="#ef5350"/>
<rect x="549" y="113" width="3" height="12" fill="#ef5350"/>
<rect x="554" y="117" width="1" height="20" fill="#ef5350"/>
<rect x="553" y="124" width="3" height="2" fill="#ef5350"/>
<rect x="559" y="103" width="1" height="29" fill="#26a69a"/>
<rect x="558" y="107" width="3" height="19" fill="#26a69a"/>
<rect x="564" y="103" width="1" height="9" fill="#26a69a"/>
<rect x="563" y="103" width="3" height="5" fill="#26a69a"/>
<rect x="569" y="101" width="1" height="23" fill="#ef5350"/>
<rect x="568" y="103" width="3" height="19" fill="#ef5350"/>
<rect x="574" y="113" width="1" height="20" fill="#ef5350"/>
<rect x="573" y="121" width="3" height="8" fill="#ef5350"/>
<rect x="579" y="122" width="1" height="7" fill="#26a69a"/>
<rect x="578" y="124" width="3" height="5" fill="#26a69a"/>
<rect x="584" y="124" width="1" height="11" fill="#ef5350"/>
<rect x="583" y="124" width="3" height="8" fill="#ef5350"/>
<rect x="588" y="125" width="1" height="17" fill="#ef5350"/>
<rect x="587" y="131" width="3" height="6" fill="#ef5350"/>
<rect x="593" y="119" width="1" height="20" fill="#26a69a"/>
<rect x="592" y="132" width="3" height="5" fill="#26a69a"/>
<rect x="598" y="124" width="1" height="11" fill="#26a69a"/>
<rect x="597" y="127" width="3" height="6" fill="#26a69a"/>
<rect x="603" y="111" width="1" height="17" fill="#26a69a"/>
<rect x="602" y="115" width="3" height="13" fill="#26a69a"/>
<rect x="608" y="105" width="1" height="14" fill="#26a69a"/>
<rect x="607" y="109" width="3" height="7" fill="#26a69a"/>
<rect x="613" y="106" width="1" height="6" fill="#26a69a"/>
<rect x="612" y="109" width="3" height="1" fill="#26a69a"/>
<rect x="618" y="106" width="1" height="7" fill="#26a69a"/>
<rect x="617" y="108" width="3" height="1" fill="#26a69a"/>
<rect x="622" y="88" width="1" height="22" fill="#26a69a"/>
<rect x="621" y="89" width="3" height="20" fill="#26a69a"/>
<rect x="627" y="87" width="1" height="32" fill="#ef5350"/>
<rect x="626" y="89" width="3" height="27" fill="#ef5350"/>
<rect x="632" y="113" width="1" height="23" fill="#ef5350"/>
<rect x="631" y="115" width="3" height="10" fill="#ef5350"/>
<rect x="637" y="123" width="1" height="19" fill="#ef5350"/>
<rect x="636" y="124" width="3" height="13" fill="#ef5350"/>
<rect x="642" y="120" width="1" height="18" fill="#26a69a"/>
<rect x="641" y="126" width="3" height="11" fill="#26a69a"/>
<rect x="647" y="124" width="1" height="6" fill="#ef5350"/>
<rect x="646" y="126" width="3" height="1" fill="#ef5350"/>
<rect x="652" y="123" width="1" height="8" fill="#ef5350"/>
<rect x="651" y="126" width="3" height="1" fill="#ef5350"/>
<rect x="656" y="120" width="1" height="32" fill="#26a69a"/>
<rect x="655" y="127" width="3" height="1" fill="#26a69a"/>
<rect x="661" y="113" width="1" height="14" fill="#26a69a"/>
<rect x="660" y="117" width="3" height="10" fill="#26a69a"/>
<rect x="666" y="97" width="1" height="21" fill="#26a69a"/>
<rect x="665" y="98" width="3" height="20" fill="#26a69a"/>
<rect x="671" y="96" width="1" height="17" fill="#ef5350"/>
<rect x="670" y="98" width="3" height="3" fill="#ef5350"/>
<rect x="676" y="72" width="1" height="29" fill="#26a69a"/>
<rect x="675" y="80" width="3" height="21" fill="#26a69a"/>
<rect x="681" y="77" width="1" height="12" fill="#26a69a"/>
<rect x="680" y="78" width="3" height="3" fill="#26a69a"/>
<rect x="685" y="74" width="1" height="10" fill="#26a69a"/>
<rect x="684" y="78" width="3" height="1" fill="#26a69a"/>
</g>
<g fill="#26a69a" clip-path="url(#pane)">
<rect x="10" y="78" width="1" height="1"/>
<rect x="13" y="78" width="1" height="1"/>
<rect x="16" y="78" width="1" height="1"/>
<rect x="19" y="78" width="1" height="1"/>
<rect x="22" y="78" width="1" height="1"/>
<rect x="25" y="78" width="1" height="1"/>
<rect x="28" y="78" width="1" height="1"/>
<rect x="31" y="78" width="1" height="1"/>
<rect x="34" y="78" width="1" height="1"/>
<rect x="37" y="78" width="1" height="1"/>
<rect x="40" y="78" width="1" height="1"/>
<rect x="43" y="78" width="1" height="1"/>
<rect x="46" y="78" width="1" height="1"/>
<rect x="49" y="78" width="1" height="1"/>
<rect x="52" y="78" width="1" height="1"/>
<rect x="55" y="78" width="1" height="1"/>
<rect x="58" y="78" width="1" height="1"/>
<rect x="61" y="78" width="1" height="1"/>
<rect x="64" y="78" width="1" height="1"/>
<rect x="67" y="78" width="1" height="1"/>
<rect x="70" y="78" width="1" height="1"/>
<rect x="73" y="78" width="1" height="1"/>
<rect x="76" y="78" width="1" height="1"/>
<rect x="79" y="78" width="1" height="1"/>
<rect x="82" y="78" width="1" height="1"/>
<rect x="85" y="78" width="1" height="1"/>
<rect x="88" y="78" width="1" height="1"/>
<rect x="91" y="78" width="1" height="1"/>
<rect x="94" y="78" width="1" height="1"/>
<rect x="97" y="78" width="1" height="1"/>
<rect x="100" y="78" width="1" height="1"/>
<rect x="103" y="78" width="1" height="1"/>
<rect x="106" y="78" width="1" height="1"/>
<rect x="109" y="78" width="1" height="1"/>
<rect x="112" y="78" width="1" height="1"/>
<rect x="115" y="78" width="1" height="1"/>
<rect x="118" y="78" width="1" height="1"/>
<rect x="121" y="78" width="1" height="1"/>
<rect x="124" y="78" width="1" height="1"/>
<rect x="127" y="78" width="1" height="1"/>
<rect x="130" y="78" width="1" height="1"/>
<rect x="133" y="78" width="1" height="1"/>
<rect x="136" y="78" width="1" height="1"/>
<rect x="139" y="78" width="1" height="1"/>
<rect x="142" y="78" width="1" height="1"/>
<rect x="145" y="78" width="1" height="1"/>
<rect x="148" y="78" width="1" height="1"/>
<rect x="151" y="78" width="1" height="1"/>
<rect x="154" y="78" width="1" height="1"/>
<rect x="157" y="78" width="1" height="1"/>
<rect x="160" y="78" width="1" height="1"/>
<rect x="163" y="78" width="1" height="1"/>
<rect x="166" y="78" width="1" height="1"/>
<rect x="169" y="78" width="1" height="1"/>
<rect x="172" y="78" width="1" height="1"/>
<rect x="175" y="78" width="1" height="1"/>
<rect x="178" y="78" width="1" height="1"/>
<rect x="181" y="78" width="1" height="1"/>
<rect x="184" y="78" width="1" height="1"/>
<rect x="187" y="78" width="1" height="1"/>
<rect x="190" y="78" width="1" height="1"/>
<rect x="193" y="78" width="1" height="1"/>
<rect x="196" y="78" width="1" height="1"/>
<rect x="199" y="78" width="1" height="1"/>
<rect x="202" y="78" width="1" height="1"/>
<rect x="205" y="78" width="1" height="1"/>
<rect x="208" y="78" width="1" height="1"/>
<rect x="211" y="78" width="1" height="1"/>
<rect x="214" y="78" width="1" height="1"/>
<rect x="217" y="78" width="1" height="1"/>
<rect x="220" y="78" width="1" height="1"/>
<rect x="223" y="78" width="1" height="1"/>
<rect x="226" y="78" width="1" height="1"/>
<rect x="229" y="78" width="1" height="1"/>
<rect x="232" y="78" width="1" height="1"/>
<rect x="235" y="78" width="1" height="1"/>
<rect x="238" y="78" width="1" height="1"/>
<rect x="241" y="78" width="1" height="1"/>
<rect x="244" y="78" width="1" height="1"/>
<rect x="247" y="78" width="1" height="1"/>
<rect x="250" y="78" width="1" height="1"/>
<rect x="253" y="78" width="1" height="1"/>
<rect x="256" y="78" width="1" height="1"/>
<rect x="259" y="78" width="1" height="1"/>
<rect x="262" y="78" width="1" height="1"/>
<rect x="265" y="78" width="1" height="1"/>
<rect x="268" y="78" width="1" height="1"/>
<rect x="271" y="78" width="1" height="1"/>
<rect x="274" y="78" width="1" height="1"/>
<rect x="277" y="78" width="1" height="1"/>
<rect x="280" y="78" width="1" height="1"/>
<rect x="283" y="78" width="1" height="1"/>
<rect x="286" y="78" width="1" height="1"/>
<rect x="289" y="78" width="1" height="1"/>
<rect x="292" y="78" width="1" height="1"/>
<rect x="295" y="78" width="1" height="1"/>
<rect x="298" y="78" width="1" height="1"/>
<rect x="301" y="78" width="1" height="1"/>
<rect x="304" y="78" width="1" height="1"/>
<rect x="307" y="78" width="1" height="1"/>
<rect x="310" y="78" width="1" height="1"/>
<rect x="313" y="78" width="1" height="1"/>
<rect x="316" y="78" width="1" height="1"/>
<rect x="319" y="78" width="1" height="1"/>
<rect x="322" y="78" width="1" height="1"/>
<rect x="325" y="78" width="1" height="1"/>
<rect x="328" y="78" width="1" height="1"/>
<rect x="331" y="78" width="1" height="1"/>
<rect x="334" y="78" width="1" height="1"/>
<rect x="337" y="78" width="1" height="1"/>
<rect x="340" y="78" width="1" height="1"/>
<rect x="343" y="78" width="1" height="1"/>
<rect x="346" y="78" width="1" height="1"/>
<rect x="349" y="78" width="1" height="1"/>
<rect x="352" y="78" width="1" height="1"/>
<rect x="355" y="78" width="1" height="1"/>
<rect x="358" y="78" width="1" height="1"/>
<rect x="361" y="78" width="1" height="1"/>
<rect x="364" y="78" width="1" height="1"/>
<rect x="367" y="78" width="1" height="1"/>
<rect x="370" y="78" width="1" height="1"/>
<rect x="373" y="78" width="1" height="1"/>
<rect x="376" y="78" width="1" height="1"/>
<rect x="379" y="78" width="1" height="1"/>
<rect x="382" y="78" width="1" height="1"/>
<rect x="385" y="78" width="1" height="1"/>
<rect x="388" y="78" width="1" height="1"/>
<rect x="391" y="78" width="1" height="1"/>
<rect x="394" y="78" width="1" height="1"/>
<rect x="397" y="78" width="1" height="1"/>
<rect x="400" y="78" width="1" height="1"/>
<rect x="403" y="78" width="1" height="1"/>
<rect x="406" y="78" width="1" height="1"/>
<rect x="409" y="78" width="1" height="1"/>
<rect x="412" y="78" width="1" height="1"/>
<rect x="415" y="78" width="1" height="1"/>
<rect x="418" y="78" width="1" height="1"/>
<rect x="421" y="78" width="1" height="1"/>
<rect x="424" y="78" width="1" height="1"/>
<rect x="427" y="78" width="1" height="1"/>
<rect x="430" y="78" width="1" height="1"/>
<rect x="433" y="78" width="1" height="1"/>
<rect x="436" y="78" width="1" height="1"/>
<rect x="439" y="78" width="1" height="1"/>
<rect x="442" y="78" width="1" height="1"/>
<rect x="445" y="78" width="1" height="1"/>
<rect x="448" y="78" width="1" height="1"/>
<rect x="451" y="78" width="1" height="1"/>
<rect x="454" y="78" width="1" height="1"/>
<rect x="457" y="78" width="1" height="1"/>
<rect x="460" y="78" width="1" height="1"/>
<rect x="463" y="78" width="1" height="1"/>
<rect x="466" y="78" width="1" height="1"/>
<rect x="469" y="78" width="1" height="1"/>
<rect x="472" y="78" width="1" height="1"/>
<rect x="475" y="78" width="1" height="1"/>
<rect x="478" y="78" width="1" height="1"/>
<rect x="481" y="78" width="1" height="1"/>
<rect x="484" y="78" width="1" height="1"/>
<rect x="487" y="78" width="1" height="1"/>
<rect x="490" y="78" width="1" height="1"/>
<rect x="493" y="78" width="1" height="1"/>
<rect x="496" y="78" width="1" height="1"/>
<rect x="499" y="78" width="1" height="1"/>
<rect x="502" y="78" width="1" height="1"/>
<rect x="505" y="78" width="1" height="1"/>
<rect x="508" y="78" width="1" height="1"/>
<rect x="511" y="78" width="1" height="1"/>
<rect x="514" y="78" width="1" height="1"/>
<rect x="517" y="78" width="1" height="1"/>
<rect x="520" y="78" width="1" height="1"/>
<rect x="523" y="78" width="1" height="1"/>
<rect x="526" y="78" width="1" height="1"/>
<rect x="529" y="78" width="1" height="1"/>
<rect x="532" y="78" width="1" height="1"/>
<rect x="535" y="78" width="1" height="1"/>
<rect x="538" y="78" width="1" height="1"/>
<rect x="541" y="78" width="1" height="1"/>
<rect x="544" y="78" width="1" height="1"/>
<rect x="547" y="78" width="1" height="1"/>
<rect x="550" y="78" width="1" height="1"/>
<rect x="553" y="78" width="1" height="1"/>
<rect x="556" y="78" width="1" height="1"/>
<rect x="559" y="78" width="1" height="1"/>
<rect x="562" y="78" width="1" height="1"/>
<rect x="565" y="78" width="1" height="1"/>
<rect x="568" y="78" width="1" height="1"/>
<rect x="571" y="78" width="1" height="1"/>
<rect x="574" y="78" width="1" height="1"/>
<rect x="577" y="78" width="1" height="1"/>
<rect x="580" y="78" width="1" height="1"/>
<rect x="583" y="78" width="1" height="1"/>
<rect x="586" y="78" width="1" height="1"/>
<rect x="589" y="78" width="1" height="1"/>
<rect x="592" y="78" width="1" height="1"/>
<rect x="595" y="78" width="1" height="1"/>
<rect x="598" y="78" width="1" height="1"/>
<rect x="601" y="78" width="1" height="1"/>
<rect x="604" y="78" width="1" height="1"/>
<rect x="607" y="78" width="1" height="1"/>
<rect x="610" y="78" width="1" height="1"/>
<rect x="613" y="78" width="1" height="1"/>
<rect x="616" y="78" width="1" height="1"/>
<rect x="619" y="78" width="1" height="1"/>
<rect x="622" y="78" width="1" height="1"/>
<rect x="625" y="78" width="1" height="1"/>
<rect x="628" y="78" width="1" height="1"/>
<rect x="631" y="78" width="1" height="1"/>
<rect x="634" y="78" width="1" height="1"/>
<rect x="637" y="78" width="1" height="1"/>
<rect x="640" y="78" width="1" height="1"/>
<rect x="643" y="78" width="1" height="1"/>
<rect x="646" y="78" width="1" height="1"/>
<rect x="649" y="78" width="1" height="1"/>
<rect x="652" y="78" width="1" height="1"/>
<rect x="655" y="78" width="1" height="1"/>
<rect x="658" y="78" width="1" height="1"/>
<rect x="661" y="78" width="1" height="1"/>
<rect x="664" y="78" width="1" height="1"/>
<rect x="667" y="78" width="1" height="1"/>
<rect x="670" y="78" width="1" height="1"/>
<rect x="673" y="78" width="1" height="1"/>
<rect x="676" y="78" width="1" height="1"/>
<rect x="679" y="78" width="1" height="1"/>
<rect x="682" y="78" width="1" height="1"/>
<rect x="685" y="78" width="1" height="1"/>
<rect x="688" y="78" width="1" height="1"/>
<rect x="691" y="78" width="1" height="1"/>
<rect x="694" y="78" width="1" height="1"/>
<rect x="697" y="78" width="1" height="1"/>
<rect x="700" y="78" width="1" height="1"/>
<rect x="703" y="78" width="1" height="1"/>
<rect x="706" y="78" width="1" height="1"/>
<rect x="709" y="78" width="1" height="1"/>
<rect x="712" y="78" width="1" height="1"/>
<rect x="715" y="78" width="1" height="1"/>
<rect x="718" y="78" width="1" height="1"/>
<rect x="721" y="78" width="1" height="1"/>
<rect x="724" y="78" width="1" height="1"/>
<rect x="727" y="78" width="1" height="1"/>
<rect x="730" y="78" width="1" height="1"/>
<rect x="733" y="78" width="1" height="1"/>
<rect x="736" y="78" width="1" height="1"/>
<rect x="739" y="78" width="1" height="1"/>
<rect x="742" y="78" width="1" height="1"/>
<rect x="745" y="78" width="1" height="1"/>
<rect x="748" y="78" width="1" height="1"/>
<rect x="751" y="78" width="1" height="1"/>
<rect x="754" y="78" width="1" height="1"/>
<rect x="757" y="78" width="1" height="1"/>
<rect x="760" y="78" width="1" height="1"/>
<rect x="763" y="78" width="1" height="1"/>
<rect x="766" y="78" width="1" height="1"/>
<rect x="769" y="78" width="1" height="1"/>
<rect x="772" y="78" width="1" height="1"/>
<rect x="775" y="78" width="1" height="1"/>
<rect x="778" y="78" width="1" height="1"/>
<rect x="781" y="78" width="1" height="1"/>
<rect x="784" y="78" width="1" height="1"/>
<rect x="787" y="78" width="1" height="1"/>
<rect x="790" y="78" width="1" height="1"/>
<rect x="793" y="78" width="1" height="1"/>
<rect x="796" y="78" width="1" height="1"/>
<rect x="799" y="78" width="1" height="1"/>
<rect x="802" y="78" width="1" height="1"/>
<rect x="805" y="78" width="1" height="1"/>
<rect x="808" y="78" width="1" height="1"/>
<rect x="811" y="78" width="1" height="1"/>
<rect x="814" y="78" width="1" height="1"/>
<rect x="817" y="78" width="1" height="1"/>
<rect x="820" y="78" width="1" height="1"/>
<rect x="823" y="78" width="1" height="1"/>
<rect x="826" y="78" width="1" height="1"/>
<rect x="829" y="78" width="1" height="1"/>
<rect x="832" y="78" width="1" height="1"/>
<rect x="835" y="78" width="1" height="1"/>
<rect x="838" y="78" width="1" height="1"/>
<rect x="841" y="78" width="1" height="1"/>
<rect x="844" y="78" width="1" height="1"/>
<rect x="847" y="78" width="1" height="1"/>
<rect x="850" y="78" width="1" height="1"/>
<rect x="853" y="78" width="1" height="1"/>
<rect x="856" y="78" width="1" height="1"/>
<rect x="859" y="78" width="1" height="1"/>
<rect x="862" y="78" width="1" height="1"/>
<rect x="865" y="78" width="1" height="1"/>
<rect x="868" y="78" width="1" height="1"/>
<rect x="871" y="78" width="1" height="1"/>
<rect x="874" y="78" width="1" height="1"/>
<rect x="877" y="78" width="1" height="1"/>
<rect x="880" y="78" width="1" height="1"/>
<rect x="883" y="78" width="1" height="1"/>
<rect x="886" y="78" width="1" height="1"/>
</g>
<rect x="10" y="28" width="1" height="521" fill="#2a2e39" opacity="0.6"/>
<rect x="937" y="28" width="1" height="521" fill="#2e323d"/>
<rect x="11" y="522" width="991" height="1" fill="#2e323d"/>
<rect x="11" y="356" width="992" height="1" fill="#e4e6ef"/>
<circle cx="686.2" cy="343" r="10.3" fill="none" stroke="#ab47bc" stroke-width="1.4"/>
<circle cx="674.8" cy="347" r="5.7" fill="#131722"/>
<path d="M674.8 342.1 C675.4 345.3 676.5 346.4 679.6 347 C676.5 347.6 675.4 348.7 674.8 351.9 C674.2 348.7 673.1 347.6 670 347 C673.1 346.4 674.2 345.3 674.8 342.1Z" fill="#7c4dff" stroke="#7c4dff" stroke-width="0.8" stroke-linejoin="round"/>
<clipPath id="fc1"><circle cx="690.1" cy="343" r="8.3"/></clipPath><circle cx="690.1" cy="343" r="10.25" fill="#131722" stroke="#e0293c" stroke-width="1.5"/><g clip-path="url(#fc1)"><rect x="681.1" y="334" width="18" height="18" fill="#f7f7f9"/><rect x="681.1" y="334.00" width="18" height="4.3" fill="#ef5350"/><rect x="681.1" y="341.30" width="18" height="3.4" fill="#ef5350"/><rect x="681.1" y="347.80" width="18" height="4.4" fill="#ef5350"/><rect x="681.1" y="334" width="11.1" height="10.9" fill="#2b8ee9"/><rect x="683.80" y="336.80" width="1.8" height="1.2" fill="#e6f1fd"/><rect x="686.50" y="336.80" width="1.8" height="1.2" fill="#e6f1fd"/><rect x="689.20" y="336.80" width="1.8" height="1.2" fill="#e6f1fd"/><rect x="683.80" y="339.50" width="1.8" height="1.2" fill="#e6f1fd"/><rect x="686.50" y="339.50" width="1.8" height="1.2" fill="#e6f1fd"/><rect x="689.20" y="339.50" width="1.8" height="1.2" fill="#e6f1fd"/><rect x="683.80" y="342.20" width="1.8" height="1.2" fill="#e6f1fd"/><rect x="686.50" y="342.20" width="1.8" height="1.2" fill="#e6f1fd"/><rect x="689.20" y="342.20" width="1.8" height="1.2" fill="#e6f1fd"/></g>
<clipPath id="fc2"><circle cx="710.1" cy="343" r="8.3"/></clipPath><circle cx="710.1" cy="343" r="10.25" fill="#131722" stroke="#e0293c" stroke-width="1.5"/><g clip-path="url(#fc2)"><rect x="701.1" y="334" width="18" height="18" fill="#f7f7f9"/><rect x="701.1" y="334.00" width="18" height="4.3" fill="#ef5350"/><rect x="701.1" y="341.30" width="18" height="3.4" fill="#ef5350"/><rect x="701.1" y="347.80" width="18" height="4.4" fill="#ef5350"/><rect x="701.1" y="334" width="11.1" height="10.9" fill="#2b8ee9"/><rect x="703.80" y="336.80" width="1.8" height="1.2" fill="#e6f1fd"/><rect x="706.50" y="336.80" width="1.8" height="1.2" fill="#e6f1fd"/><rect x="709.20" y="336.80" width="1.8" height="1.2" fill="#e6f1fd"/><rect x="703.80" y="339.50" width="1.8" height="1.2" fill="#e6f1fd"/><rect x="706.50" y="339.50" width="1.8" height="1.2" fill="#e6f1fd"/><rect x="709.20" y="339.50" width="1.8" height="1.2" fill="#e6f1fd"/><rect x="703.80" y="342.20" width="1.8" height="1.2" fill="#e6f1fd"/><rect x="706.50" y="342.20" width="1.8" height="1.2" fill="#e6f1fd"/><rect x="709.20" y="342.20" width="1.8" height="1.2" fill="#e6f1fd"/></g>
<g transform="translate(10,559.8) scale(0.55)" fill="#d1d4dc"><path d="M14 22H7V11H0V4h14v18zM28 22h-8l7.5-18h8L28 22z"/><circle cx="20" cy="8" r="4"/></g>
</svg>
<div id="hdr"><span style="left:10.2px;transform:scaleX(1.05)">nderitumichaelg</span> <span style="left:102.0px;transform:scaleX(1.002)">published</span> <span style="left:157.3px;transform:scaleX(0.969)">on</span> <span style="left:172.7px;transform:scaleX(1.005)">TradingView.com,</span> <span style="left:272.7px;transform:scaleX(0.94)">Jan</span> <span style="left:295.2px;transform:scaleX(0.95)">19,</span> <span style="left:314.7px;transform:scaleX(0.915)">2025</span> <span style="left:344.4px;transform:scaleX(0.94)">15:54</span> <span style="left:376.9px;transform:scaleX(0.86)">UTC</span></div>
<div class="t lg" style="left:221px">104,432</div>
<div class="t lg" style="left:278px">105,524</div>
<div class="t lg" style="left:334px">103,310</div>
<div class="t lg" style="left:390.5px">104,612</div>
<div class="t lg" style="left:440px;transform:scaleX(0.95);transform-origin:0 0">+176</div>
<div class="t lg" style="left:469px;transform:scaleX(0.942);transform-origin:0 0">(+0.17%)</div>
<div class="t" style="left:101.7px;top:366px;font-size:12px;color:#7e57c2;transform:scaleX(0.955);transform-origin:0 0">65.01</div>
<div class="t" style="left:138.5px;top:366px;font-size:12px;color:#fdd835;-webkit-text-stroke:0.35px #fdd835">53.40</div>
<div class="lb" id="sym"><span style="left:4px;top:3px;font-weight:bold;transform:scaleX(0.85);transform-origin:0 0">BTCUSD</span></div>
<div class="lb" id="prc"><span style="left:8.4px;top:2.2px;font-weight:bold;transform:scaleX(0.972);transform-origin:0 0">104,612</span><span style="left:8px;top:16px;color:rgba(255,255,255,0.78);-webkit-text-stroke:0.35px rgba(255,255,255,0.78)">08:05:59</span></div>
<div class="lb" id="r1"><span style="left:8px;top:3px;font-weight:bold;transform:scaleX(0.97);transform-origin:0 0">65.01</span></div>
<div class="lb" id="r2"><span style="left:8px;top:3px;-webkit-text-stroke:0.3px #131722">53.40</span></div>
<div class="t" id="tv">TradingView</div>
</body></html>
